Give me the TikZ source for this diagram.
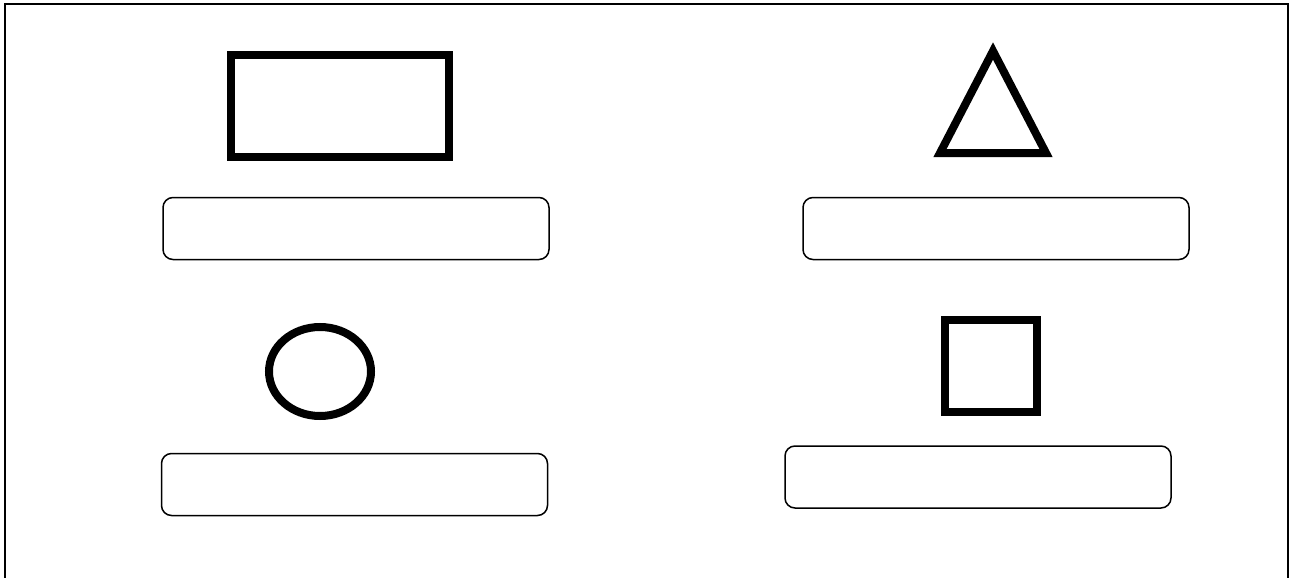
\documentclass[tikz,border=0pt]{standalone}
\usetikzlibrary{shapes.geometric}
\begin{document}
\begin{tikzpicture}[x=1pt,y=-1pt,
  bigshape/.style={draw=black,line width=8pt,inner sep=0pt,outer sep=0pt},
  labelbox/.style={draw=black,line width=1.5pt,rounded corners=10pt,inner sep=0pt,minimum width=386pt,minimum height=62pt}]
\useasboundingbox (0,0) rectangle (1291,578);
\draw[line width=2pt] (5,4) rectangle (1288,600);
\node[bigshape,rectangle,minimum width=218pt,minimum height=102pt] (rect) at (340,106) {};
\coordinate (tA) at (993,51);
\coordinate (tB) at (1046,153);
\coordinate (tC) at (940,153);
\draw[line width=8pt,line join=miter] (tA) -- (tB) -- (tC) -- cycle;
\node[bigshape,ellipse,minimum width=102pt,minimum height=89pt] (circ) at (320,371.5) {};
\node[bigshape,rectangle,minimum width=92pt,minimum height=92pt] (sq) at (991,366) {};
\node[labelbox] (b1) at (356,228.5) {};
\node[labelbox] (b2) at (996,228.5) {};
\node[labelbox] (b3) at (354.5,484.5) {};
\node[labelbox] (b4) at (978,477) {};
\end{tikzpicture}
\end{document}
